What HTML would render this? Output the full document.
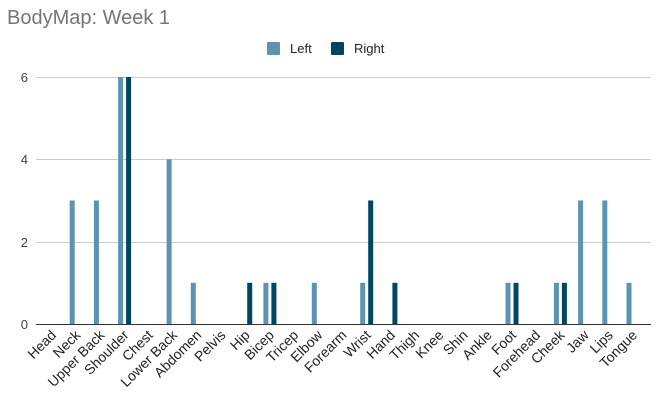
<!DOCTYPE html>
<html><head><meta charset="utf-8"><style>
html,body{margin:0;padding:0;background:#fff;}
svg{display:block;font-family:"Liberation Sans",Arial,sans-serif;}
</style></head><body>
<svg width="665" height="404" viewBox="0 0 665 404" xmlns="http://www.w3.org/2000/svg">
<text x="7" y="24" font-size="20" fill="#757575">BodyMap: Week 1</text>
<rect x="267" y="42" width="13" height="13" rx="1" fill="#5b93b0"/>
<text x="290" y="53" font-size="13" fill="#222">Left</text>
<rect x="331" y="42" width="13" height="13" rx="1" fill="#004561"/>
<text x="354" y="53" font-size="13" fill="#222">Right</text>
<g stroke="#cccccc" stroke-width="1">
<line x1="36" y1="77.5" x2="651" y2="77.5"/>
<line x1="36" y1="159.5" x2="651" y2="159.5"/>
<line x1="36" y1="242.5" x2="651" y2="242.5"/>
</g>
<g font-size="13" fill="#444" text-anchor="end">
<text x="28" y="82">6</text><text x="28" y="164">4</text><text x="28" y="247">2</text><text x="28" y="329">0</text>
</g>
<g fill="#5b93b0">
<rect x="69.7" y="200.5" width="5" height="123.5"/>
<rect x="93.9" y="200.5" width="5" height="123.5"/>
<rect x="118.1" y="77" width="5" height="247"/>
<rect x="166.6" y="159.3" width="5" height="164.7"/>
<rect x="190.8" y="282.8" width="5" height="41.2"/>
<rect x="263.4" y="282.8" width="5" height="41.2"/>
<rect x="311.8" y="282.8" width="5" height="41.2"/>
<rect x="360.2" y="282.8" width="5" height="41.2"/>
<rect x="505.5" y="282.8" width="5" height="41.2"/>
<rect x="553.9" y="282.8" width="5" height="41.2"/>
<rect x="578.1" y="200.5" width="5" height="123.5"/>
<rect x="602.3" y="200.5" width="5" height="123.5"/>
<rect x="626.5" y="282.8" width="5" height="41.2"/>
</g>
<g fill="#004561">
<rect x="126.1" y="77" width="5" height="247"/>
<rect x="247.2" y="282.8" width="5" height="41.2"/>
<rect x="271.4" y="282.8" width="5" height="41.2"/>
<rect x="368.2" y="200.5" width="5" height="123.5"/>
<rect x="392.4" y="282.8" width="5" height="41.2"/>
<rect x="513.5" y="282.8" width="5" height="41.2"/>
<rect x="561.9" y="282.8" width="5" height="41.2"/>
</g>
<line x1="36" y1="324.5" x2="651" y2="324.5" stroke="#333" stroke-width="1"/>
<g font-size="14" fill="#222" text-anchor="end">
<text x="57" y="336" transform="rotate(-45 57 336)">Head</text>
<text x="81.2" y="336" transform="rotate(-45 81.2 336)">Neck</text>
<text x="105.4" y="336" transform="rotate(-45 105.4 336)">Upper Back</text>
<text x="129.6" y="336" transform="rotate(-45 129.6 336)">Shoulder</text>
<text x="153.8" y="336" transform="rotate(-45 153.8 336)">Chest</text>
<text x="178.1" y="336" transform="rotate(-45 178.1 336)">Lower Back</text>
<text x="202.3" y="336" transform="rotate(-45 202.3 336)">Abdomen</text>
<text x="226.5" y="336" transform="rotate(-45 226.5 336)">Pelvis</text>
<text x="250.7" y="336" transform="rotate(-45 250.7 336)">Hip</text>
<text x="274.9" y="336" transform="rotate(-45 274.9 336)">Bicep</text>
<text x="299.1" y="336" transform="rotate(-45 299.1 336)">Tricep</text>
<text x="323.3" y="336" transform="rotate(-45 323.3 336)">Elbow</text>
<text x="347.5" y="336" transform="rotate(-45 347.5 336)">Forearm</text>
<text x="371.7" y="336" transform="rotate(-45 371.7 336)">Wrist</text>
<text x="395.9" y="336" transform="rotate(-45 395.9 336)">Hand</text>
<text x="420.2" y="336" transform="rotate(-45 420.2 336)">Thigh</text>
<text x="444.4" y="336" transform="rotate(-45 444.4 336)">Knee</text>
<text x="468.6" y="336" transform="rotate(-45 468.6 336)">Shin</text>
<text x="492.8" y="336" transform="rotate(-45 492.8 336)">Ankle</text>
<text x="517" y="336" transform="rotate(-45 517 336)">Foot</text>
<text x="541.2" y="336" transform="rotate(-45 541.2 336)">Forehead</text>
<text x="565.4" y="336" transform="rotate(-45 565.4 336)">Cheek</text>
<text x="589.6" y="336" transform="rotate(-45 589.6 336)">Jaw</text>
<text x="613.8" y="336" transform="rotate(-45 613.8 336)">Lips</text>
<text x="638" y="336" transform="rotate(-45 638 336)">Tongue</text>
</g>
</svg>
</body></html>
